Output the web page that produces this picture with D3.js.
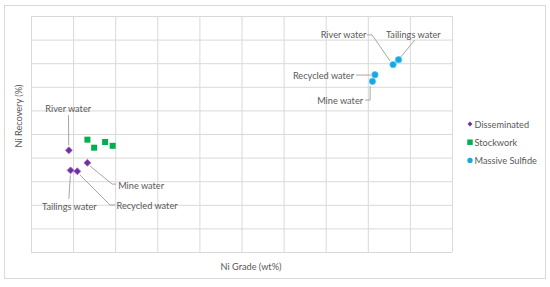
<!DOCTYPE html>
<html>
<head>
<meta charset="utf-8">
<script src="https://cdn.jsdelivr.net/npm/d3@7"></script>
<style>
  body { margin: 0; background: #fff; }
  text { font-family: Lato, "Open Sans", sans-serif; fill: #595959; }
</style>
</head>
<body>
<div id="chart"></div>
<script>
// data (axis units are unlabeled, 0-10 grid)
const waterTypes = ['River water', 'Tailings water', 'Recycled water', 'Mine water'];
const seriesNames = ['Disseminated', 'Stockwork', 'Massive Sulfide'];
const disseminatedGrade = [0.9, 0.94, 1.1, 1.34];
const disseminatedRecovery = [4.31, 3.46, 3.42, 3.78];
const stockworkGrade = [1.34, 1.5, 1.76, 1.94];
const stockworkRecovery = [4.76, 4.42, 4.66, 4.5];
const massiveGrade = [8.6, 8.73, 8.17, 8.11];
const massiveRecovery = [7.94, 8.15, 7.51, 7.23];
const gridTicks = d3.range(0, 11);

const W = 550, H = 287;
const margin = { left: 31, top: 16, right: 98, bottom: 35 };
const fontSize = 9.2;

const svg = d3.select('#chart').append('svg')
  .attr('width', W)
  .attr('height', H);

// chart border
svg.append('rect')
  .attr('x', 4.5).attr('y', 5.5)
  .attr('width', 541).attr('height', 273)
  .attr('fill', '#fff')
  .attr('stroke', '#d9d9d9');

const x = d3.scaleLinear().domain([0, 10]).range([margin.left, W - margin.right]);
const y = d3.scaleLinear().domain([0, 10]).range([H - margin.bottom, margin.top]);

// gridlines via axes
const gx = svg.append('g')
  .attr('transform', `translate(0,${y(0)})`)
  .call(d3.axisBottom(x).tickValues(gridTicks).tickSize(-(y(0) - y(10))).tickFormat(''));
const gy = svg.append('g')
  .attr('transform', `translate(${x(0)},0)`)
  .call(d3.axisLeft(y).tickValues(gridTicks).tickSize(-(x(10) - x(0))).tickFormat(''));
[gx, gy].forEach(g => {
  g.select('.domain').remove();
  g.selectAll('line').attr('stroke', '#d9d9d9').attr('stroke-width', 1);
});

const series = [
  { name: seriesNames[0], color: '#7030a0', type: 'diamond',
    points: disseminatedGrade.map((g, i) => ({ g, r: disseminatedRecovery[i], label: waterTypes[i] })) },
  { name: seriesNames[1], color: '#00b050', type: 'square',
    points: stockworkGrade.map((g, i) => ({ g, r: stockworkRecovery[i] })) },
  { name: seriesNames[2], color: '#14a6e6', type: 'circle',
    points: massiveGrade.map((g, i) => ({ g, r: massiveRecovery[i], label: waterTypes[i] })) }
];

// label placement: text center offset and leader waypoints, relative to point
const labelLayout = {
  'Disseminated': [
    { dx: -0.7, dy: -42, leader: [[-0.4, -35], [-0.2, -5]] },
    { dx: -1.2, dy: 35.7, leader: [[-0.2, 5], [-1.7, 28.5]] },
    { dx: 69.7, dy: 34.7, leader: [[2.7, 3.7], [32.7, 33.7], [37.7, 33.7]] },
    { dx: 53.7, dy: 22.3, leader: [[2.7, 3.3], [24.7, 21.3], [28.7, 21.3]] }
  ],
  'Massive Sulfide': [
    { dx: -49.5, dy: -29.7, leader: [[-26, -29.7], [-21, -29.7], [-3, -3.7]] },
    { dx: 14.8, dy: -24.7, leader: [[16.3, -19.7], [2.3, -2.7]] },
    { dx: -51.5, dy: 0.3, leader: [[-19, 0.3], [-4, 0.3]] },
    { dx: -32.3, dy: 18.7, leader: [[-7.3, 18.7], [-2.3, 18.7], [-2.3, 4.7]] }
  ]
};

const symbolFor = t => t === 'circle'
  ? d3.symbol(d3.symbolCircle, 32)
  : d3.symbol(d3.symbolSquare, t === 'diamond' ? 24 : 36);

// leader lines and labels
series.forEach(s => {
  const layout = labelLayout[s.name];
  if (!layout) return;
  s.points.forEach((p, i) => {
    const l = layout[i];
    const px = x(p.g), py = y(p.r);
    svg.append('path')
      .attr('d', d3.line()(l.leader.map(o => [px + o[0], py + o[1]])))
      .attr('fill', 'none')
      .attr('stroke', '#a6a6a6')
      .attr('stroke-width', 1);
    svg.append('text')
      .attr('x', px + l.dx)
      .attr('y', py + l.dy)
      .attr('text-anchor', 'middle')
      .attr('dominant-baseline', 'central')
      .attr('font-size', fontSize)
      .text(p.label);
  });
});

// markers
series.forEach(s => {
  svg.append('g').selectAll('path')
    .data(s.points)
    .join('path')
    .attr('d', symbolFor(s.type)())
    .attr('transform', d => `translate(${x(d.g)},${y(d.r)})${s.type === 'diamond' ? ' rotate(45)' : ''}`)
    .attr('fill', s.color)
    .attr('stroke', s.type === 'circle' ? '#5cc3ef' : s.type === 'diamond' ? '#9a6cc0' : 'none')
    .attr('stroke-width', 0.8);
});

// legend
const legend = svg.append('g').attr('transform', 'translate(470,124)');
series.forEach((s, i) => {
  const row = legend.append('g').attr('transform', `translate(0,${i * 18.2})`);
  row.append('path')
    .attr('d', d3.symbol(s.type === 'circle' ? d3.symbolCircle : d3.symbolSquare, s.type === 'diamond' ? 12 : s.type === 'square' ? 30 : 22)())
    .attr('transform', s.type === 'diamond' ? 'rotate(45)' : null)
    .attr('fill', s.color);
  row.append('text')
    .attr('x', 4.5)
    .attr('y', 0)
    .attr('dominant-baseline', 'central')
    .attr('font-size', fontSize)
    .text(s.name);
});

// axis titles
svg.append('text')
  .attr('x', 251)
  .attr('y', 266)
  .attr('text-anchor', 'middle')
  .attr('dominant-baseline', 'central')
  .attr('font-size', fontSize)
  .text('Ni Grade (wt%)');
svg.append('text')
  .attr('transform', 'translate(18,116) rotate(-90)')
  .attr('text-anchor', 'middle')
  .attr('dominant-baseline', 'central')
  .attr('font-size', fontSize)
  .text('Ni Recovery (%)');
</script>
</body>
</html>
